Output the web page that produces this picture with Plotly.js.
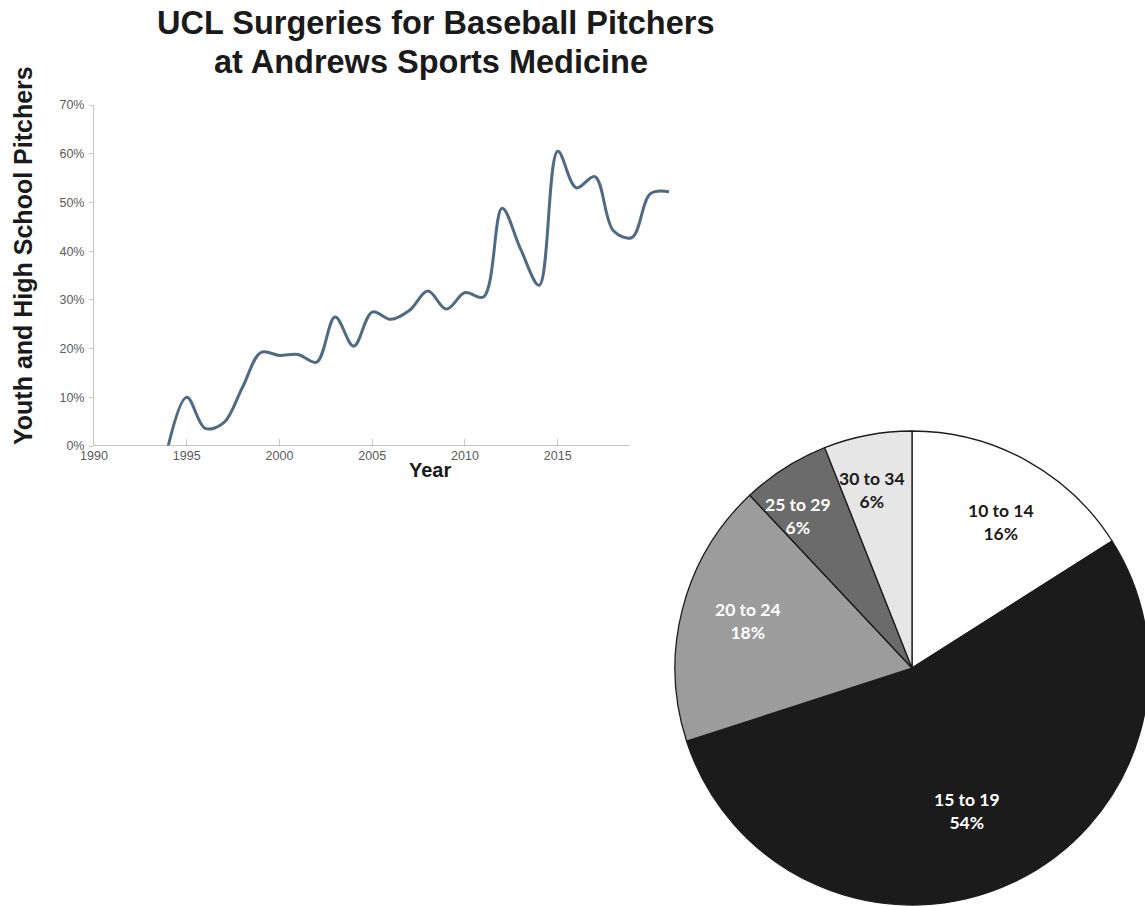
<!DOCTYPE html>
<html>
<head>
<meta charset="utf-8">
<script src="https://cdn.plot.ly/plotly-3.0.1.min.js"></script>
<style>
  html, body { margin: 0; padding: 0; background: #ffffff; overflow: hidden; }
  #chart { width: 1150px; height: 906px; }
</style>
</head>
<body>
<div id="chart"></div>
<script>
// ---- Data ----
const years = [1994, 1995, 1996, 1997, 1998, 1999, 2000, 2001, 2002, 2003, 2004, 2005, 2006, 2007,
               2008, 2009, 2010, 2011, 2012, 2013, 2014, 2015, 2016, 2017, 2018, 2019, 2020, 2021];
const pitcherPct = [0, 10, 3.6, 4.8, 12.0, 19.2, 18.6, 18.8, 17.2, 26.5, 20.5, 27.5, 26.0, 27.8,
                    31.8, 28.1, 31.5, 30.6, 48.8, 40.4, 33.0, 60.5, 53.0, 55.3, 44.2, 42.8, 51.8, 52.2];

const xTickVals = [1990, 1995, 2000, 2005, 2010, 2015];
const yTickVals = [0, 10, 20, 30, 40, 50, 60, 70];
const yTickText = ['0%', '10%', '20%', '30%', '40%', '50%', '60%', '70%'];

const ageGroups = ['10 to 14', '15 to 19', '20 to 24', '25 to 29', '30 to 34'];
const agePct = [16, 54, 18, 6, 6];

// ---- Styling / placement (kept apart from the data) ----
const sliceColors = ['#ffffff', '#1b1b1b', '#9c9c9c', '#6b6b6b', '#e6e6e6'];
const sliceTextColors = ['#1b1b1b', '#ffffff', '#ffffff', '#ffffff', '#1b1b1b'];
// label centres in page pixels, one per slice
const sliceLabelPx = [[1001, 522], [967, 811], [748, 621], [798, 516], [872, 490]];

const W = 1150, H = 906;
const px = v => v / W;
const py = v => 1 - v / H;

const lineTrace = {
  type: 'scatter',
  mode: 'lines',
  x: years,
  y: pitcherPct,
  line: { color: '#4f6a85', width: 3, shape: 'spline', smoothing: 1 },
  hoverinfo: 'x+y',
  showlegend: false,
  xaxis: 'x',
  yaxis: 'y'
};

const pieTrace = {
  type: 'pie',
  labels: ageGroups,
  values: agePct,
  sort: false,
  direction: 'clockwise',
  rotation: 0,
  textinfo: 'none',
  marker: { colors: sliceColors, line: { color: '#1b1b1b', width: 1.3 } },
  domain: { x: [px(675), px(1149)], y: [py(905), py(431)] },
  showlegend: false,
  hoverinfo: 'label+percent'
};

const axisFont = { family: '"Liberation Sans", Arial, sans-serif', size: 12.5, color: '#5a5a5a' };
const boldFont = (size) => ({ family: '"Liberation Sans", Arial, sans-serif', size: size, weight: 'bold', color: '#1a1a1a' });

const annotations = [
  { text: 'UCL Surgeries for Baseball Pitchers',
    xref: 'paper', yref: 'paper', x: px(436), y: py(23.5), xanchor: 'center', yanchor: 'middle',
    showarrow: false, font: boldFont(32.5) },
  { text: 'at Andrews Sports Medicine',
    xref: 'paper', yref: 'paper', x: px(431), y: py(62.5), xanchor: 'center', yanchor: 'middle',
    showarrow: false, font: boldFont(32.5) },
  { text: 'Youth and High School Pitchers',
    xref: 'paper', yref: 'paper', x: px(23), y: py(256), xanchor: 'center', yanchor: 'middle',
    textangle: -90, showarrow: false, font: boldFont(25) },
  { text: 'Year',
    xref: 'paper', yref: 'paper', x: px(430), y: py(470), xanchor: 'center', yanchor: 'middle',
    showarrow: false, font: boldFont(20) }
];

ageGroups.forEach((g, i) => {
  annotations.push({
    text: g + '<br>' + agePct[i] + '%',
    xref: 'paper', yref: 'paper',
    x: px(sliceLabelPx[i][0]), y: py(sliceLabelPx[i][1]),
    xanchor: 'center', yanchor: 'middle', align: 'center', showarrow: false,
    font: { family: 'Lato, "Noto Sans", sans-serif', size: 17.5, weight: 'bold', color: sliceTextColors[i] }
  });
});

const layout = {
  width: W,
  height: H,
  margin: { l: 0, r: 0, t: 0, b: 0, pad: 0 },
  paper_bgcolor: '#ffffff',
  plot_bgcolor: '#ffffff',
  showlegend: false,
  xaxis: {
    domain: [px(94), px(674.6)],
    range: [1990, 2021.3],
    tickvals: xTickVals,
    ticks: 'inside',
    ticklen: 7,
    tickcolor: '#c8c8c8',
    tickfont: axisFont,
    showgrid: false,
    zeroline: false,
    showline: false,
    fixedrange: true
  },
  yaxis: {
    domain: [py(446), py(105)],
    range: [0, 70],
    tickvals: yTickVals,
    ticktext: yTickText,
    ticks: 'outside',
    ticklen: 4,
    tickcolor: '#c8c8c8',
    ticklabelstandoff: 2,
    tickfont: axisFont,
    showgrid: false,
    zeroline: false,
    showline: true,
    linecolor: '#c8c8c8',
    linewidth: 1,
    fixedrange: true
  },
  shapes: [
    { type: 'line', xref: 'x', yref: 'y', x0: 1990, x1: 2018.9, y0: 0, y1: 0,
      line: { color: '#b0b0b0', width: 1.5 } }
  ],
  annotations: annotations
};

Plotly.newPlot('chart', [lineTrace, pieTrace], layout, { displayModeBar: false, staticPlot: true });
</script>
</body>
</html>
